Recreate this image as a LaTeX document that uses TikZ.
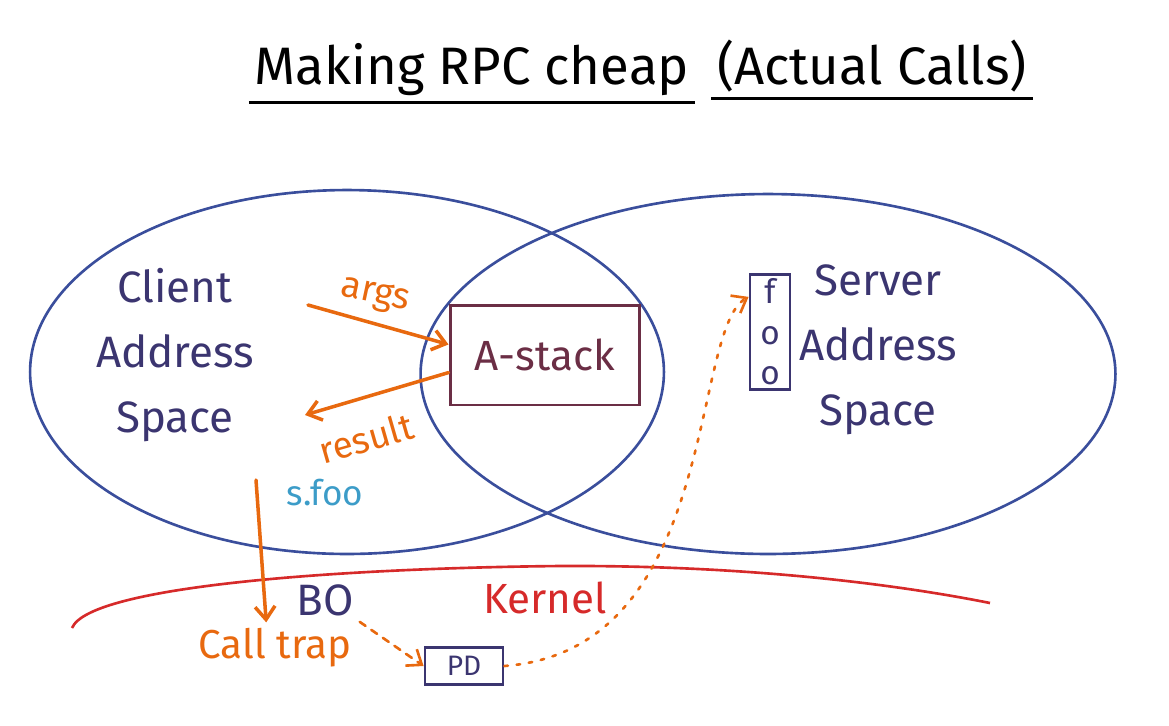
\documentclass[tikz,border=0pt]{standalone}
\usepackage{fontspec}
\setmainfont{Fira Sans}
\usetikzlibrary{arrows.meta,positioning,shapes.geometric}

\definecolor{ink}{HTML}{3B3570}
\definecolor{spaceblue}{HTML}{3A4E9C}
\definecolor{stackred}{HTML}{6B2E45}
\definecolor{callorange}{HTML}{E8690F}
\definecolor{sfooblue}{HTML}{3C9CC8}
\definecolor{kernelred}{HTML}{D62A2A}

\begin{document}
\begin{tikzpicture}[x=0.02cm, y=-0.02cm, >={Straight Barb[length=2.6mm,width=4mm]},
  space/.style={draw=spaceblue, ellipse, line width=1.5pt, inner sep=0pt},
  inktext/.style={text=ink, align=center, font=\fontsize{25}{37}\selectfont},
  stack/.style={draw=stackred, text=stackred, line width=1.7pt, minimum width=3.8cm, minimum height=2cm, font=\fontsize{24}{28}\selectfont},
  flow/.style={draw=callorange, line width=2pt, line cap=round},
  orangetext/.style={text=callorange, font=\fontsize{21}{24}\selectfont},
  inkbox/.style={draw=ink, text=ink, line width=1.6pt}]
  \useasboundingbox (0,0) rectangle (1169,725);

  % title
  \node[font=\fontsize{30}{34}\selectfont] (title1) at (472,70) {Making RPC cheap};
  \node[font=\fontsize{30}{34}\selectfont] (title2) at (872,66) {(Actual Calls)};
  \draw[line width=1.8pt] (title1.south west) -- (title1.south east);
  \draw[line width=1.8pt] (title2.south west) -- (title2.south east);

  % address spaces
  \node[space, minimum width=12.68cm, minimum height=7.28cm] (client) at (347,372) {};
  \node[space, minimum width=13.9cm, minimum height=7.2cm] (server) at (768,374) {};
  \node[inktext] (clienttxt) at (175,355) {Client\\Address\\Space};
  \node[inktext] (servertxt) at (878,350) {Server\\Address\\Space};

  \node[stack] (astack) at (545,355) {A-stack};
  \node[inkbox, align=center, inner sep=2pt, minimum width=0.8cm, minimum height=2.3cm,
    font=\fontsize{19}{23}\selectfont] (foo) at (770,332) {f\\o\\o};

  % args / result
  \coordinate (argsin) at (308,305);
  \coordinate (resultout) at (305,415);
  \draw[flow, ->] (argsin) -- ([yshift=6pt]astack.west);
  \draw[flow, ->] ([yshift=-10pt]astack.west) -- (resultout);
  \node[orangetext, rotate=-12] (args) at (375,296) {args};
  \node[orangetext, rotate=16] (result) at (366,438) {result};

  % kernel
  \draw[kernelred, line width=1.5pt] (72,628) .. controls (90,585) and (350,568) .. (560,566)
    .. controls (750,565) and (900,585) .. (990,603);
  \node[text=kernelred, font=\fontsize{24}{28}\selectfont] (kernel) at (545,598) {Kernel};

  \node[text=sfooblue, font=\fontsize{20}{24}\selectfont] (sfoo) at (325,493) {s.foo};
  \node[inktext] (bo) at (325,600) {BO};
  \node[orangetext, font=\fontsize{23}{26}\selectfont] (calltrap) at (275,648) {Call trap};
  \node[inkbox, minimum width=1.56cm, minimum height=0.74cm, font=\fontsize{16}{18}\selectfont] (pd) at (464,666) {PD};

  \coordinate (callstart) at (256,480);
  \draw[flow, ->] (callstart) -- ([xshift=-5pt]calltrap.north);
  \draw[flow, line width=1.5pt, dash pattern=on 4pt off 4pt, ->] (bo.south east) -- (pd.west);
  \draw[flow, line width=1.5pt, dash pattern=on 2pt off 5pt, ->] (pd.east)
    .. controls (720,650) and (690,330) .. ([yshift=20pt]foo.west);
\end{tikzpicture}
\end{document}
